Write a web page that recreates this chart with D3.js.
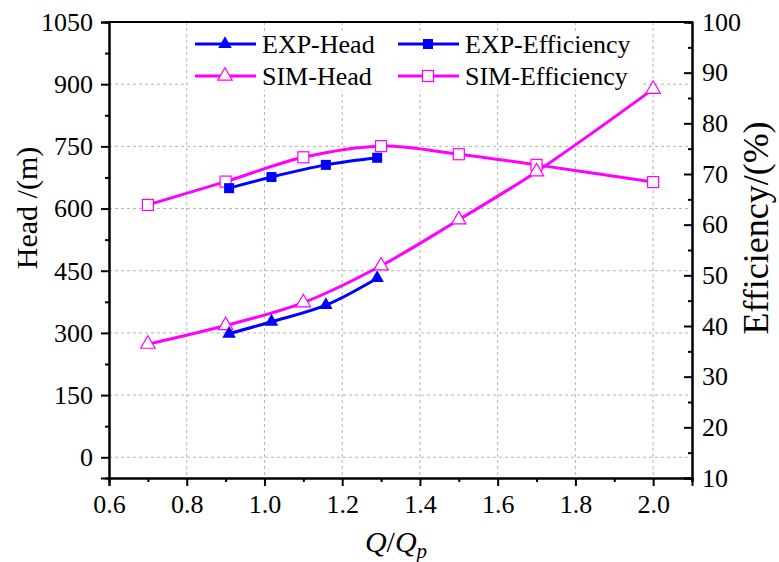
<!DOCTYPE html>
<html>
<head>
<meta charset="utf-8">
<script src="https://cdn.jsdelivr.net/npm/d3@7/dist/d3.min.js"></script>
<style>
  html, body { margin: 0; padding: 0; background: #fff; }
  svg { display: block; }
</style>
</head>
<body>
<svg id="chart" width="779" height="562"></svg>
<script>
// Flow ratio Q/Qp for measured and simulated operating points
const expQ = [0.909, 1.018, 1.158, 1.29];
const expHead = [298, 327, 367, 432];
const expEff = [67.2, 69.4, 71.8, 73.2];

const simQ = [0.7, 0.9, 1.1, 1.3, 1.5, 1.7, 2.0];
const simHead = [273, 318, 373, 462, 573, 689, 888];
const simEff = [63.9, 68.5, 73.3, 75.5, 73.9, 71.8, 68.4];

const xTicks = [0.6, 0.8, 1.0, 1.2, 1.4, 1.6, 1.8, 2.0];
const headTicks = [0, 150, 300, 450, 600, 750, 900, 1050];
const effTicks = [10, 20, 30, 40, 50, 60, 70, 80, 90, 100];

const legendItems = [
  { label: "EXP-Head", color: "#0000ff", shape: "tri", filled: true },
  { label: "EXP-Efficiency", color: "#0000ff", shape: "sq", filled: true },
  { label: "SIM-Head", color: "#ff00ff", shape: "tri", filled: false },
  { label: "SIM-Efficiency", color: "#ff00ff", shape: "sq", filled: false }
];

const SERIF = "'Liberation Serif', 'Times New Roman', serif";
const svg = d3.select("#chart");
const L = 109, R = 692, T = 22, B = 478;

const x = d3.scaleLinear().domain([0.6, 2.1]).range([L, R]);
const yH = d3.scaleLinear().domain([-50, 1050]).range([B, T]);
const yE = d3.scaleLinear().domain([10, 100]).range([B, T]);

const gridColor = "#b4b4b4";

// grid
const grid = svg.append("g");
grid.selectAll("line.gx").data(xTicks.filter(d => d > 0.6)).join("line")
  .attr("x1", d => x(d)).attr("x2", d => x(d)).attr("y1", T).attr("y2", B)
  .attr("stroke", gridColor).attr("stroke-width", 1).attr("stroke-dasharray", "3,3");
grid.selectAll("line.gy").data(headTicks.filter(d => d < 1050)).join("line")
  .attr("y1", d => yH(d)).attr("y2", d => yH(d)).attr("x1", L).attr("x2", R)
  .attr("stroke", gridColor).attr("stroke-width", 1).attr("stroke-dasharray", "3,3");

// legend background hides the grid behind it
svg.append("rect").attr("x", 188).attr("y", 32).attr("width", 452).attr("height", 58).attr("fill", "#fff");

const curve = d3.curveCatmullRom.alpha(0.5);
function drawSeries(qs, vals, yScale, color) {
  const pts = qs.map((q, i) => [x(q), yScale(vals[i])]);
  svg.append("path").attr("d", d3.line().curve(curve)(pts))
    .attr("fill", "none").attr("stroke", color).attr("stroke-width", 3);
  return pts;
}
function marker(g, cx, cy, shape, color, filled) {
  if (shape === "sq") {
    const s = filled ? 10 : 11;
    g.append("rect").attr("x", cx - s / 2).attr("y", cy - s / 2).attr("width", s).attr("height", s)
      .attr("fill", filled ? color : "#fff").attr("stroke", color).attr("stroke-width", filled ? 0 : 1.2);
  } else {
    const sym = d3.symbol().type(d3.symbolTriangle).size(filled ? 80 : 90);
    g.append("path").attr("d", sym()).attr("transform", `translate(${cx},${cy})`)
      .attr("fill", filled ? color : "#fff").attr("stroke", color).attr("stroke-width", filled ? 0 : 1.2);
  }
}

const pSimEff = drawSeries(simQ, simEff, yE, "#ff00ff");
const pSimHead = drawSeries(simQ, simHead, yH, "#ff00ff");
const pExpEff = drawSeries(expQ, expEff, yE, "#0000ff");
const pExpHead = drawSeries(expQ, expHead, yH, "#0000ff");

const mk = svg.append("g");
pSimEff.forEach(p => marker(mk, p[0], p[1], "sq", "#ff00ff", false));
pSimHead.forEach(p => marker(mk, p[0], p[1], "tri", "#ff00ff", false));
pExpEff.forEach(p => marker(mk, p[0], p[1], "sq", "#0000ff", true));
pExpHead.forEach(p => marker(mk, p[0], p[1], "tri", "#0000ff", true));

// axes
const tickFont = 26;
const axB = svg.append("g").attr("transform", `translate(0,${B})`)
  .call(d3.axisBottom(x).tickValues(xTicks).tickFormat(d3.format(".1f")).tickSize(8).tickPadding(9));
const axBm = svg.append("g").attr("transform", `translate(0,${B})`)
  .call(d3.axisBottom(x).tickValues(d3.range(0.7, 2.15, 0.2)).tickFormat("").tickSize(4));
const axL = svg.append("g").attr("transform", `translate(${L},0)`)
  .call(d3.axisLeft(yH).tickValues(headTicks).tickFormat(d3.format("d")).tickSize(8).tickPadding(8));
const axLm = svg.append("g").attr("transform", `translate(${L},0)`)
  .call(d3.axisLeft(yH).tickValues(d3.range(-75, 1050, 150).filter(d => d > -50)).tickFormat("").tickSize(4));
const axR = svg.append("g").attr("transform", `translate(${R},0)`)
  .call(d3.axisRight(yE).tickValues(effTicks).tickFormat(d3.format("d")).tickSize(-8).tickPadding(10));
const axRm = svg.append("g").attr("transform", `translate(${R},0)`)
  .call(d3.axisRight(yE).tickValues(d3.range(15, 100, 10)).tickFormat("").tickSize(-4));

[axB, axBm, axL, axLm, axR, axRm].forEach(a => {
  a.select(".domain").attr("stroke", "#000").attr("stroke-width", 2);
  a.selectAll(".tick line").attr("stroke", "#000").attr("stroke-width", 2);
  a.selectAll(".tick text").attr("fill", "#000")
    .style("font-family", SERIF).style("font-size", tickFont + "px");
});
axR.selectAll(".tick text").attr("x", 10);
svg.append("line").attr("x1", L).attr("x2", R).attr("y1", T).attr("y2", T)
  .attr("stroke", "#000").attr("stroke-width", 2);

// axis titles
svg.append("text").attr("transform", "translate(37,208) rotate(-90)")
  .style("font-family", SERIF).attr("text-anchor", "middle").attr("font-size", 30).text("Head /(m)");
svg.append("text").attr("transform", "translate(768,228) rotate(-90)")
  .style("font-family", SERIF).attr("text-anchor", "middle").attr("font-size", 36).text("Efficiency/(%)");
const xt = svg.append("text").attr("x", 396).attr("y", 552).style("font-family", SERIF)
  .attr("text-anchor", "middle").attr("font-size", 30).attr("font-style", "italic");
xt.append("tspan").text("Q");
xt.append("tspan").attr("font-style", "normal").text("/");
xt.append("tspan").text("Q");
xt.append("tspan").attr("font-size", 21).attr("dy", 6).text("p");

// legend
const lg = svg.append("g");
const colX = [195, 398], rowY = [44, 76];
legendItems.forEach((it, i) => {
  const cx = colX[i % 2], cy = rowY[Math.floor(i / 2)];
  lg.append("line").attr("x1", cx).attr("x2", cx + 61).attr("y1", cy).attr("y2", cy)
    .attr("stroke", it.color).attr("stroke-width", 3);
  marker(lg, cx + 30, cy, it.shape, it.color, it.filled);
  lg.append("text").attr("x", cx + 67).attr("y", cy).attr("dy", "0.34em")
    .style("font-family", SERIF).attr("font-size", 26).text(it.label);
});
</script>
</body>
</html>
